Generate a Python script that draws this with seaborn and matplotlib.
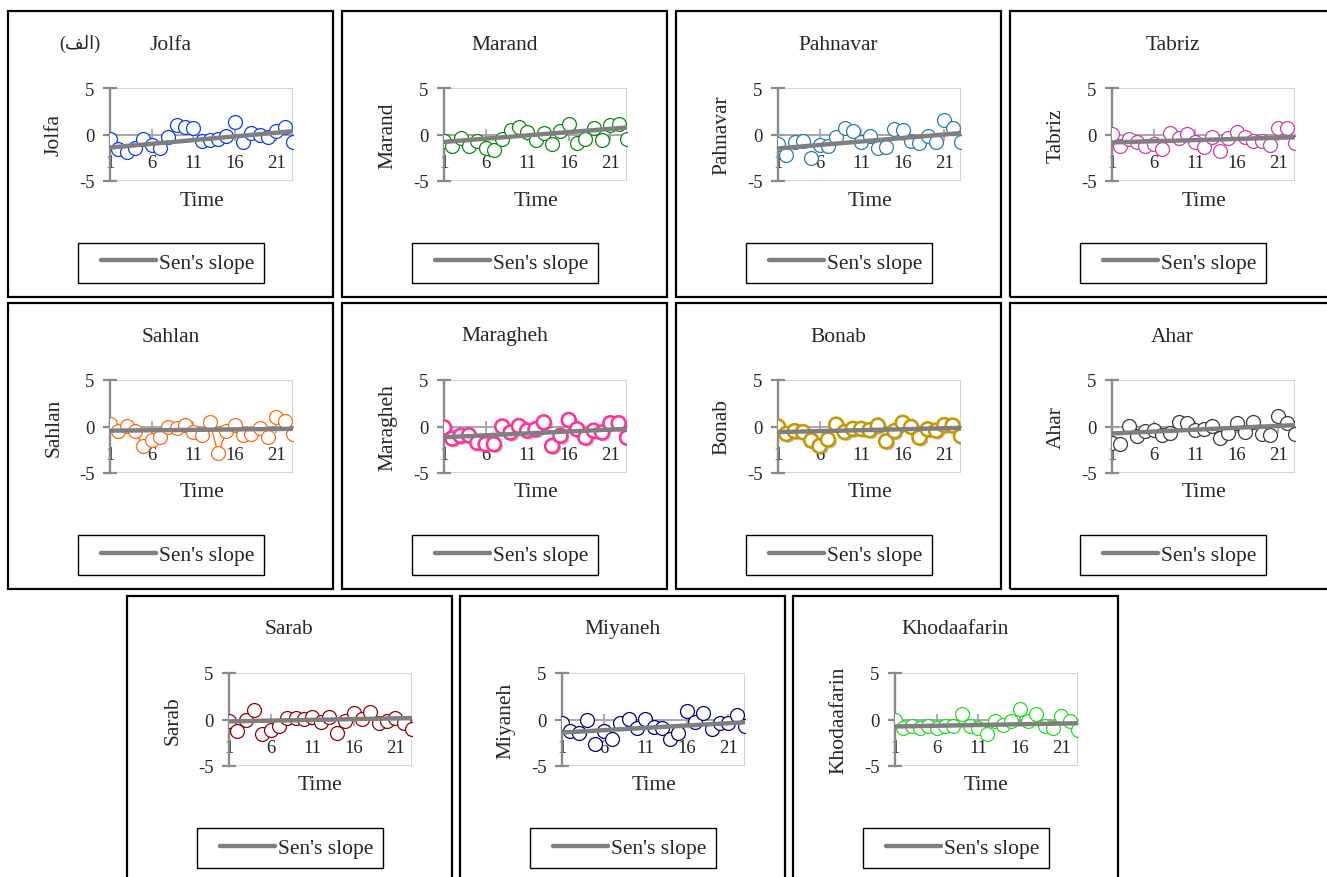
import matplotlib
matplotlib.use("Agg")
import matplotlib.pyplot as plt
from matplotlib.patches import Rectangle
from matplotlib.lines import Line2D
from matplotlib.legend_handler import HandlerLine2D
import matplotlib.patheffects as pe
import seaborn as sns

# Station names and colours
stations = ["Jolfa", "Marand", "Pahnavar", "Tabriz", "Sahlan", "Maragheh",
            "Bonab", "Ahar", "Sarab", "Miyaneh", "Khodaafarin"]
colors = ["#0A3CFF", "#0A8A0A", "#2A7AB0", "#D23AA8", "#FF6A13", "#FF3399",
          "#C49A00", "#3A3A3A", "#990000", "#000080", "#22DD22"]

time = list(range(1, 24))
xticks = [1, 6, 11, 16, 21]
yticks = [-5, 0, 5]

# Values
jolfa = [-0.5, -1.6, -1.9, -1.5, -0.5, -1.1, -1.4, -0.3, 1.0, 0.8, 0.7, -0.7,
         -0.6, -0.5, -0.2, 1.3, -0.8, 0.2, -0.1, -0.3, 0.4, 0.8, -0.8]
marand = [-0.7, -1.25, -0.4, -1.2, -0.7, -1.5, -1.7, -0.5, 0.5, 0.8, 0.3, -0.6,
          0.2, -1.0, 0.4, 1.1, -0.95, -0.5, 0.7, -0.6, 1.05, 1.1, -0.5]
pahnavar = [-1.0, -2.2, -0.8, -0.7, -2.5, -1.1, -1.25, -0.3, 0.7, 0.35, -0.8, -0.2,
            -1.5, -1.3, 0.6, 0.5, -0.75, -0.95, -0.2, -0.8, 1.6, 0.7, -0.85]
tabriz = [0.1, -1.2, -0.5, -0.85, -1.2, -1.05, -1.6, 0.2, -0.4, 0.1, -0.85, -1.3,
          -0.3, -1.8, -0.4, 0.25, -0.3, -0.65, -0.65, -1.1, 0.75, 0.75, -0.95]
sahlan = [0.3, -0.45, 0.1, -0.5, -2.05, -1.5, -1.1, 0.0, -0.15, 0.2, -0.6, -0.95,
          0.45, -2.9, -0.5, 0.2, -0.95, -0.85, -0.2, -1.1, 1.0, 0.6, -0.85]
maragheh = [-0.1, -1.3, -1.0, -0.95, -1.75, -1.9, -1.9, 0.0, -0.65, 0.05, -0.45, -0.3,
            0.45, -2.1, -1.0, 0.7, -0.3, -1.2, -0.45, -0.65, 0.35, 0.35, -1.2]
bonab = [0.0, -0.8, -0.5, -0.6, -1.5, -2.1, -1.4, 0.2, -0.6, -0.25, -0.25, -0.4,
         0.1, -1.6, -0.5, 0.4, -0.05, -1.2, -0.3, -0.45, 0.15, 0.1, -1.05]
ahar = [-1.8, -1.9, 0.05, -1.0, -0.5, -0.4, -0.95, -0.65, 0.5, 0.35, -0.4, -0.3,
        0.05, -1.2, -0.75, 0.35, -0.55, 0.45, -0.85, -0.9, 1.15, 0.35, -0.85]
sarab = [-0.15, -1.2, -0.05, 1.0, -1.6, -1.15, -0.65, 0.2, 0.15, 0.05, 0.25, -0.3,
         0.25, -1.5, -0.2, 0.75, 0.05, 0.8, -0.4, -0.15, 0.15, -0.4, -1.05]
miyaneh = [-0.4, -1.25, -1.45, 0.0, -2.65, -1.25, -2.15, -0.4, 0.05, -0.9, 0.1, -0.8,
           -0.9, -2.05, -1.45, 0.95, -0.25, 0.75, -1.0, -0.4, -0.35, 0.5, -0.75]
khodaafarin = [-0.05, -0.95, -0.65, -0.9, -0.65, -0.9, -0.75, -0.7, 0.6, -0.7, -0.9, -1.6,
               -0.15, -0.6, -0.2, 1.15, -0.15, 0.6, -0.7, -0.95, 0.35, -0.15, -1.15]

series = [jolfa, marand, pahnavar, tabriz, sahlan, maragheh,
          bonab, ahar, sarab, miyaneh, khodaafarin]

# Sen's slope line, value at first and last time step
sen_start = [-1.4, -0.8, -1.5, -0.85, -0.45, -1.15, -0.6, -0.75, -0.2, -1.4, -0.75]
sen_end = [0.35, 0.75, 0.15, -0.3, -0.25, -0.25, -0.15, 0.15, 0.15, -0.3, -0.4]

# Sahlan has a couple of joined points in the original
sahlan_joined = [(4, 6), (13, 15)]

sns.set_style("white")
plt.rcParams["font.family"] = ["Liberation Serif", "DejaVu Sans"]
plt.rcParams["axes.unicode_minus"] = False

W, H = 1327, 878
fig = plt.figure(figsize=(W / 100, H / 100), dpi=100)

# top-left corner of each panel box, pixels
boxes = [(8, 12), (342, 12), (676, 12), (1010, 12),
         (8, 304), (342, 304), (676, 304), (1010, 304),
         (127, 597), (460, 597), (793, 597)]
BW, BH = 325, 286

for i, name in enumerate(stations):
    L, T = boxes[i]
    col = colors[i]

    fig.patches.append(Rectangle((L / W, 1 - (T + BH) / H), BW / W, BH / H,
                                 transform=fig.transFigure, fill=False,
                                 edgecolor="black", linewidth=1.6))

    ax = fig.add_axes([(L + 102) / W, 1 - (T + 170) / H, 183 / W, 93 / H])

    thick = name in ("Maragheh", "Bonab")
    sns.scatterplot(x=time, y=series[i], ax=ax, s=100, color="white",
                    edgecolor=col, linewidth=1.9 if thick else 0.9,
                    legend=False, zorder=3)
    if thick:
        ax.collections[-1].set_path_effects(
            [pe.SimplePatchShadow(offset=(1.5, -1.5), alpha=0.35), pe.Normal()])

    if name == "Sahlan":
        for a, b in sahlan_joined:
            sns.lineplot(x=time[a - 1:b], y=series[i][a - 1:b], ax=ax, color=col,
                         linewidth=0.9, zorder=2, legend=False)

    sns.lineplot(x=[time[0], time[-1]], y=[sen_start[i], sen_end[i]], ax=ax,
                 color="#7F7F7F", linewidth=3.2, label="Sen's slope", zorder=4)

    ax.set_xlim(1, 23)
    ax.set_ylim(-5, 5)
    ax.set_xticks(xticks)
    ax.set_yticks(yticks)
    ax.set_xticklabels([str(t) for t in xticks])
    ax.set_yticklabels([str(t) for t in yticks])

    # plot area frame
    ax.add_patch(Rectangle((0, 0), 1, 1, transform=ax.transAxes, fill=False,
                           edgecolor="#D0D0D0", linewidth=1.3, zorder=0.5))
    ax.spines["top"].set_visible(False)
    ax.spines["right"].set_visible(False)
    ax.spines["left"].set_color("#8A8A8A")
    ax.spines["left"].set_linewidth(1.7)
    ax.spines["bottom"].set_position(("data", 0))
    ax.spines["bottom"].set_color("#A0A0A0")
    ax.spines["bottom"].set_linewidth(1.3)

    ax.tick_params(axis="y", direction="inout", length=10, width=1.6,
                   color="#8A8A8A", labelsize=13.5, pad=6, left=True)
    ax.tick_params(axis="x", direction="inout", length=8, width=1.2,
                   color="#A0A0A0", labelsize=13.5, pad=10, bottom=True)

    ax.set_ylabel(name, fontsize=15.5, va="center")
    ax.yaxis.set_label_coords(-56 / 183, 0.5)
    ax.set_xlabel("Time", fontsize=15.5, va="center")
    ax.xaxis.set_label_coords(0.5, -19 / 93)

    fig.text((L + 162.5) / W, 1 - (T + 33) / H, name, ha="center", va="center",
             fontsize=15.5)

    leg = ax.legend(loc="center", bbox_to_anchor=((L + 163) / W, 1 - (T + 252) / H),
                    bbox_transform=fig.transFigure, fontsize=15.5, frameon=True,
                    fancybox=False, edgecolor="black", framealpha=1,
                    handlelength=3.2, handletextpad=0.15, borderpad=0.45,
                    handler_map={Line2D: HandlerLine2D(xpad=0.65)})
    leg.get_frame().set_linewidth(1.0)

# panel tag in the first box
fig.text(80 / W, 1 - 44 / H, "(\uFED2\uFEDF\uFE8D)", ha="center", va="center",
         fontsize=13, family=["Liberation Serif", "DejaVu Sans"])

fig.savefig("out.png", dpi=100)
